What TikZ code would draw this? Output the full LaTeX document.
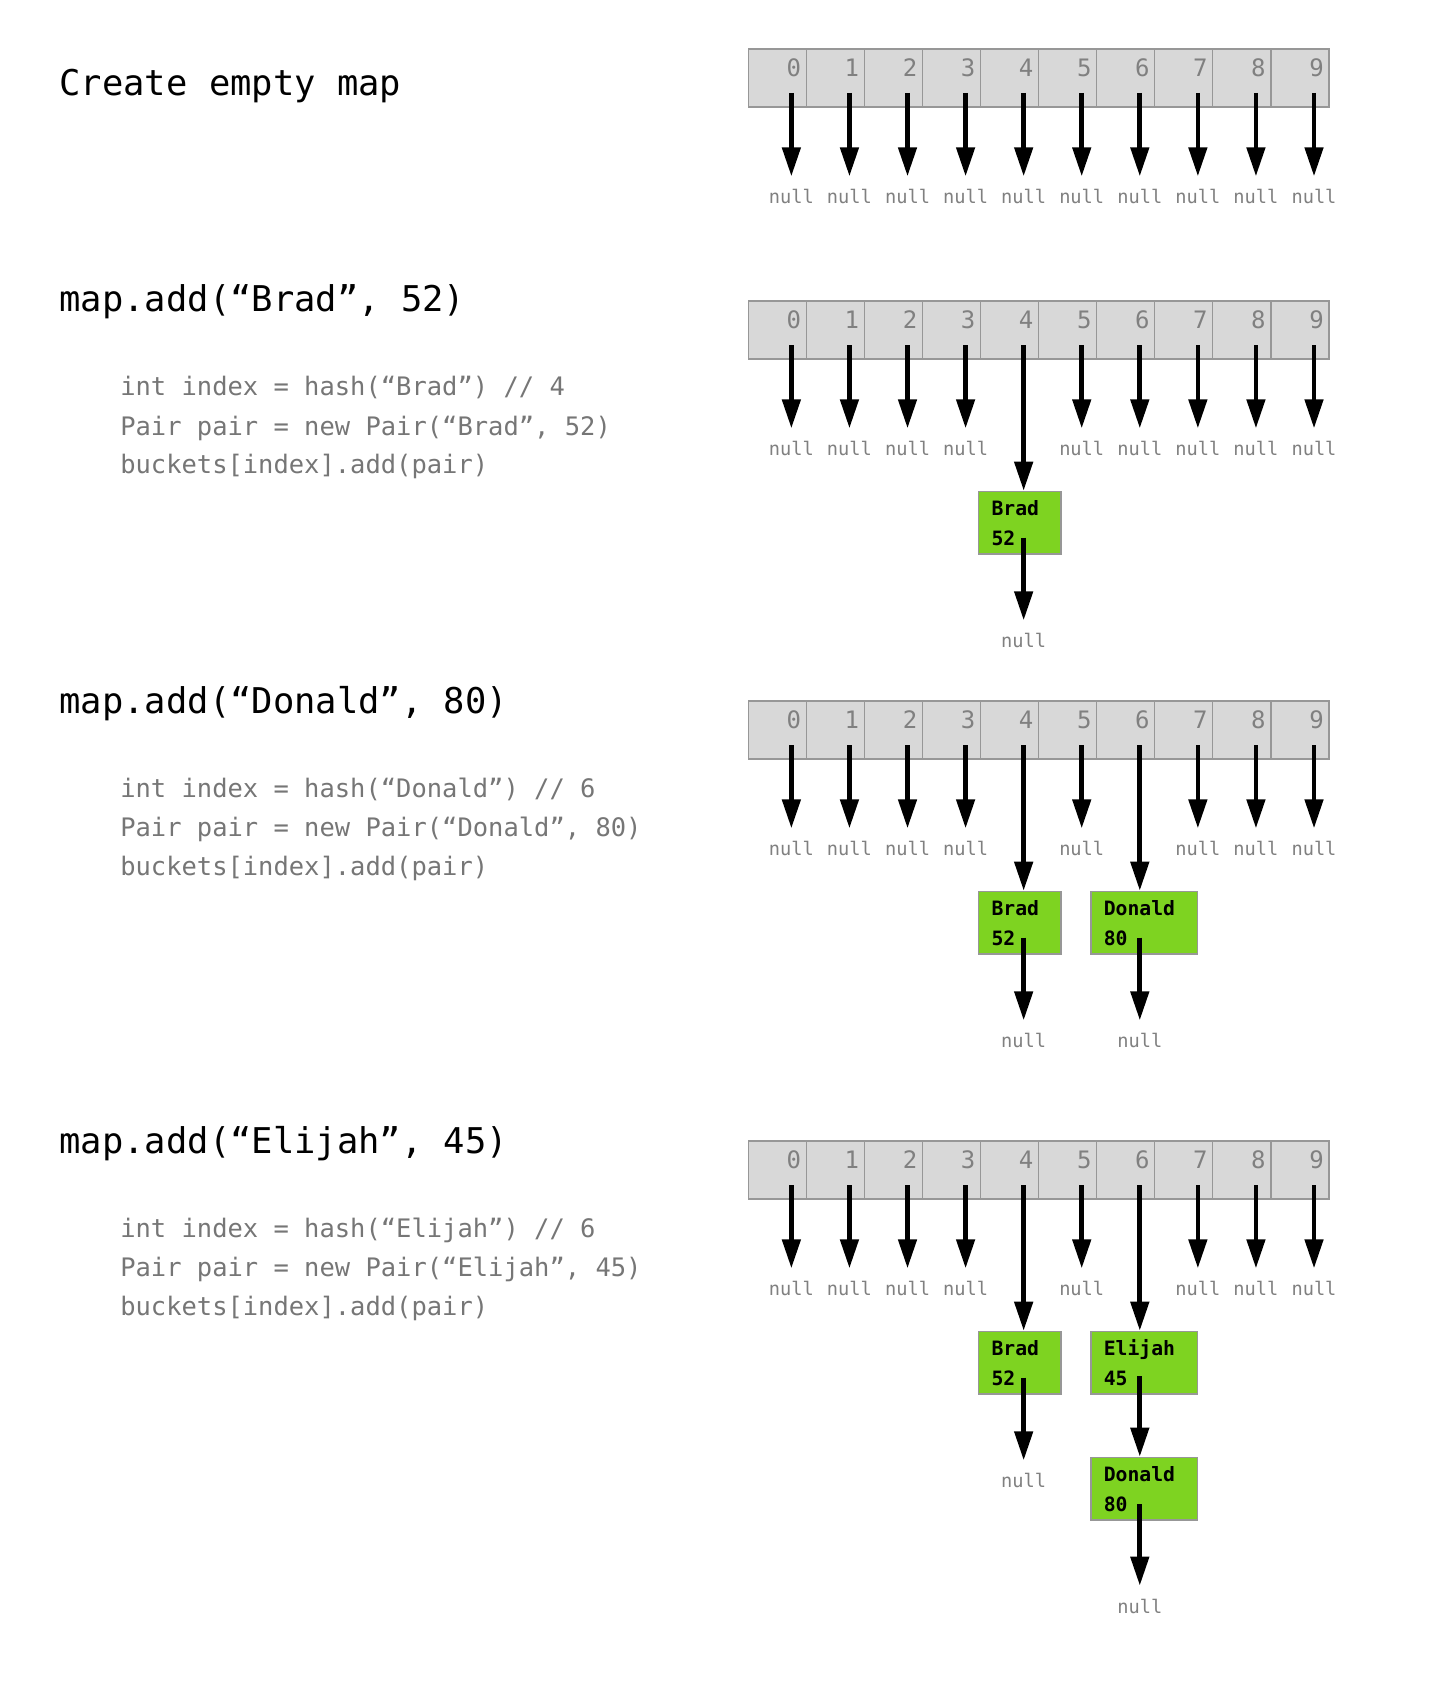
\documentclass[tikz,border=0pt]{standalone}
\usepackage{fontspec}
\setmonofont{DejaVu Sans Mono}
\usetikzlibrary{calc,arrows.meta}
\definecolor{cellfill}{HTML}{D8D8D8}
\definecolor{edgegray}{HTML}{979797}
\definecolor{pairgreen}{HTML}{7ED321}
\definecolor{codegray}{HTML}{767676}
\definecolor{nullgray}{HTML}{808080}
\tikzset{
	cell/.style={draw=edgegray, fill=cellfill, line width=0.9pt, minimum width=43.55pt, minimum height=43.5pt, inner sep=0pt, outer sep=0pt},
	digit/.style={font=\ttfamily\fontsize{18}{21}\selectfont, text=nullgray, anchor=base east, inner sep=0pt},
	nulltxt/.style={font=\ttfamily\fontsize{14}{17}\selectfont, text=nullgray, anchor=base, inner xsep=0pt, inner ysep=9.6pt},
	pair/.style={draw=edgegray, fill=pairgreen, line width=1.1pt, text width=#1, inner xsep=9.75pt, minimum height=47pt, align=left, anchor=north, font=\ttfamily\bfseries\fontsize{14.8}{22.5}\selectfont},
	ptr/.style={-{Triangle[length=21.75pt, width=13.5pt]}, line width=3.5pt},
	heading/.style={font=\ttfamily\fontsize{26.6}{32}\selectfont, anchor=base west, inner sep=0pt},
	code/.style={font=\ttfamily\fontsize{19.1}{23}\selectfont, text=codegray, anchor=base west, inner sep=0pt}
}
\def\bucketrow(#1)(#2){\foreach \j in {0,...,9}{
		\node[cell] (#1c\j) at ({777.33+58.07*\j}, {#2+29}) {};
		\node[digit] at ($(#1c\j.north east)+(-5,27.5)$) {\j};
		\coordinate (#1s\j) at ($(#1c\j.south east)+(-15,-14)$);
	}}
\def\nullrow(#1)(#2){\foreach \j in {#2}{
		\node[nulltxt] (#1n\j) at ($(#1s\j)+(0,110.7)$) {null};
		\draw[ptr] (#1s\j) -- (#1n\j.north);
	}}

\begin{document}
\begin{tikzpicture}[x=0.75pt, y=-0.75pt]
		%%%%% START %%%%%
		\useasboundingbox (0,0) rectangle (1434,1708);
		
		% empty map
		\node[heading] (t1) at (59.3,96) {Create empty map};
		\bucketrow(p1)(49)
		\nullrow(p1)(0,1,2,3,4,5,6,7,8,9)
		
		% Brad
		\node[heading] (t2) at (59.3,311.7) {map.add(“Brad”, 52)};
		\node[code] (t2a) at (120,395.7) {int index = hash(“Brad”) // 4};
		\node[code] (t2b) at (120,435.2) {Pair pair = new Pair(“Brad”, 52)};
		\node[code] (t2c) at (120,473.7) {buckets[index].add(pair)};
		\bucketrow(p2)(301)
		\nullrow(p2)(0,1,2,3,5,6,7,8,9)
		\node[pair=42.2pt] (p2brad) at ($(p2s4)+(-4,145.7)$) {Brad\\52};
		\draw[ptr] (p2s4) -- (p2s4 |- p2brad.north);
		\coordinate (p2bs) at ($(p2brad.north -| p2s4)+(0,47)$);
		\node[nulltxt] (p2bradn) at ($(p2bs)+(0,110)$) {null};
		\draw[ptr] (p2bs) -- (p2bradn.north);
		
		% Donald
		\node[heading] (t3) at (59.3,713.3) {map.add(“Donald”, 80)};
		\node[code] (t3a) at (120,797.3) {int index = hash(“Donald”) // 6};
		\node[code] (t3b) at (120,836.8) {Pair pair = new Pair(“Donald”, 80)};
		\node[code] (t3c) at (120,875.3) {buckets[index].add(pair)};
		\bucketrow(p3)(701)
		\nullrow(p3)(0,1,2,3,5,7,8,9)
		\node[pair=42.2pt] (p3brad) at ($(p3s4)+(-4,145.7)$) {Brad\\52};
		\draw[ptr] (p3s4) -- (p3s4 |- p3brad.north);
		\coordinate (p3bs) at ($(p3brad.north -| p3s4)+(0,47)$);
		\node[nulltxt] (p3bradn) at ($(p3bs)+(0,110)$) {null};
		\draw[ptr] (p3bs) -- (p3bradn.north);
		\node[pair=60.5pt] (p3donald) at ($(p3s6)+(4.3,145.7)$) {Donald\\80};
		\draw[ptr] (p3s6) -- (p3s6 |- p3donald.north);
		\coordinate (p3ds) at ($(p3donald.north -| p3s6)+(0,47)$);
		\node[nulltxt] (p3donaldn) at ($(p3ds)+(0,110)$) {null};
		\draw[ptr] (p3ds) -- (p3donaldn.north);
		
		% Elijah
		\node[heading] (t4) at (59.3,1153) {map.add(“Elijah”, 45)};
		\node[code] (t4a) at (120,1237) {int index = hash(“Elijah”) // 6};
		\node[code] (t4b) at (120,1276.5) {Pair pair = new Pair(“Elijah”, 45)};
		\node[code] (t4c) at (120,1315) {buckets[index].add(pair)};
		\bucketrow(p4)(1141)
		\nullrow(p4)(0,1,2,3,5,7,8,9)
		\node[pair=42.2pt] (p4brad) at ($(p4s4)+(-4,145.7)$) {Brad\\52};
		\draw[ptr] (p4s4) -- (p4s4 |- p4brad.north);
		\coordinate (p4bs) at ($(p4brad.north -| p4s4)+(0,47)$);
		\node[nulltxt] (p4bradn) at ($(p4bs)+(0,110)$) {null};
		\draw[ptr] (p4bs) -- (p4bradn.north);
		\node[pair=60.5pt] (p4elijah) at ($(p4s6)+(4.3,145.7)$) {Elijah\\45};
		\draw[ptr] (p4s6) -- (p4s6 |- p4elijah.north);
		\node[pair=60.5pt] (p4donald) at ($(p4elijah.north)+(0,126)$) {Donald\\80};
		\coordinate (p4es) at ($(p4elijah.north -| p4s6)+(0,45.3)$);
		\draw[ptr] (p4es) -- (p4es |- p4donald.north);
		\coordinate (p4ds) at ($(p4donald.north -| p4s6)+(0,47.3)$);
		\node[nulltxt] (p4donaldn) at ($(p4ds)+(0,109)$) {null};
		\draw[ptr] (p4ds) -- (p4donaldn.north);
		%%%%% END %%%%%
	\end{tikzpicture}
\end{document}
